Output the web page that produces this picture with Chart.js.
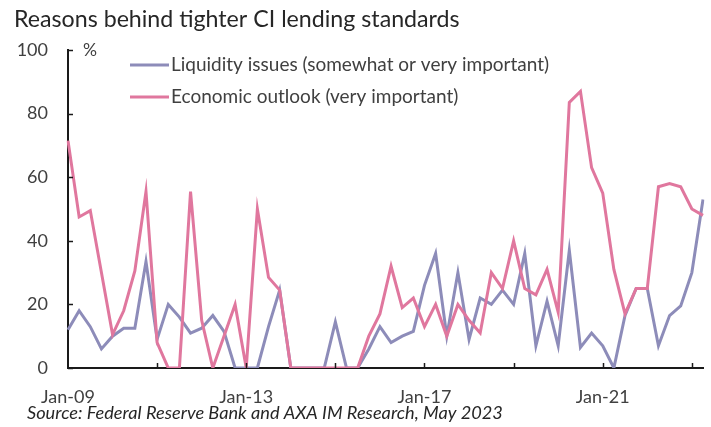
<!DOCTYPE html>
<html>
<head>
<meta charset="utf-8">
<script src="https://cdn.jsdelivr.net/npm/chart.js@4"></script>
<style>
  html, body { margin: 0; padding: 0; background: #ffffff; }
  #wrap { position: relative; width: 711px; height: 427px; }
</style>
</head>
<body>
<div id="wrap"><canvas id="c" width="711" height="427"></canvas></div>
<script>
// Quarterly survey dates, Q1 2009 to Q2 2023
const quarters = [];
for (let y = 9; y <= 23; y++) {
  for (const m of ['Jan', 'Apr', 'Jul', 'Oct']) {
    if (y === 23 && (m === 'Jul' || m === 'Oct')) continue;
    quarters.push(m + '-' + String(y).padStart(2, '0'));
  }
}

// Share of banks citing each reason, %
const liquidityIssues = [
  12, 18, 13, 6, 10, 12.5, 12.5, 33.5, 9, 20,
  16, 11, 12.5, 16.5, 11.5, 0, 0, 0, 13, 24.5,
  0, 0, 0, 0, 14.5, 0, 0, 6, 13, 8,
  10, 11.5, 26, 36, 10, 30, 9, 22, 20, 24.5,
  20, 36, 7, 21, 7, 37, 6.5, 11, 7, 0,
  16.5, 25, 25, 7, 16.5, 19.5, 30, 53
];
const economicOutlook = [
  71.5, 47.5, 49.5, 30, 10.5, 18, 30.5, 55.5, 8, 0,
  0, 55.5, 15, 0, 10, 20, 0, 50, 28.5, 24.5,
  0, 0, 0, 0, 0, 0, 0, 10, 17, 32,
  19, 22, 13, 20, 10, 20, 15, 11, 30, 25,
  40, 25, 23, 31, 17.5, 83.5, 87, 63, 55, 31,
  17, 25, 25, 57, 58, 57, 50, 48
];

const yTicks = [0, 20, 40, 60, 80, 100];
const seriesNames = ['Liquidity issues (somewhat or very important)', 'Economic outlook (very important)'];

const GREY = '#8d8cb9';
const PINK = '#e0779e';
const TEXT = '#404040';
const AXIS = '#1a1a1a';
const FONT = 'Lato, "DejaVu Sans", sans-serif';

// Title, unit, in-plot legend, source note and inward tick marks
const decorations = {
  id: 'decorations',
  afterDraw(chart) {
    const ctx = chart.ctx;
    const x = chart.scales.x, y = chart.scales.y;
    const area = chart.chartArea;
    ctx.save();

    // inward tick marks
    ctx.strokeStyle = AXIS;
    ctx.lineWidth = 1.5;
    yTicks.forEach(v => {
      const py = Math.round(y.getPixelForValue(v)) + 0.5;
      ctx.beginPath();
      ctx.moveTo(area.left, py);
      ctx.lineTo(area.left + 5, py);
      ctx.stroke();
    });
    quarters.forEach((q, i) => {
      if (i === 0 || i % 8 !== 0) return;
      const px = Math.round(x.getPixelForValue(i)) + 0.5;
      ctx.beginPath();
      ctx.moveTo(px, area.bottom);
      ctx.lineTo(px, area.bottom - 5);
      ctx.stroke();
    });

    // title
    ctx.fillStyle = '#262626';
    ctx.textBaseline = 'alphabetic';
    ctx.textAlign = 'left';
    ctx.font = '23.2px ' + FONT;
    ctx.fillText('Reasons behind tighter CI lending standards', 14, 27);

    // unit
    ctx.fillStyle = TEXT;
    ctx.font = '17.5px ' + FONT;
    ctx.fillText('%', 83, 56);

    // legend
    const colors = [GREY, PINK];
    const rows = [65, 97];
    seriesNames.forEach((name, k) => {
      ctx.strokeStyle = colors[k];
      ctx.lineWidth = 3;
      ctx.beginPath();
      ctx.moveTo(130, rows[k]);
      ctx.lineTo(169, rows[k]);
      ctx.stroke();
      ctx.fillStyle = TEXT;
      ctx.font = '19px ' + FONT;
      ctx.textBaseline = 'middle';
      ctx.fillText(name, 171, rows[k]);
    });

    // source
    ctx.textBaseline = 'alphabetic';
    ctx.fillStyle = '#262626';
    ctx.font = 'italic 18.2px ' + FONT;
    ctx.fillText('Source: Federal Reserve Bank and AXA IM Research, May 2023', 27, 419);

    ctx.restore();
  }
};

new Chart(document.getElementById('c'), {
  type: 'line',
  data: {
    labels: quarters,
    datasets: [
      {
        label: seriesNames[1],
        data: economicOutlook,
        borderColor: PINK,
        borderWidth: 3,
        pointRadius: 0,
        tension: 0,
        fill: false
      },
      {
        label: seriesNames[0],
        data: liquidityIssues,
        borderColor: GREY,
        borderWidth: 3,
        pointRadius: 0,
        tension: 0,
        fill: false
      }
    ]
  },
  options: {
    responsive: false,
    animation: false,
    events: [],
    layout: { padding: { top: 50, right: 8, left: 0, bottom: 0 } },
    plugins: {
      legend: { display: false },
      title: { display: false },
      tooltip: { enabled: false }
    },
    scales: {
      x: {
        type: 'category',
        offset: false,
        afterFit(scale) { scale.height = 59; },
        border: { display: true, color: AXIS, width: 2 },
        grid: { display: false, drawOnChartArea: false, drawTicks: false },
        ticks: {
          autoSkip: false,
          maxRotation: 0,
          minRotation: 0,
          padding: 18,
          color: TEXT,
          font: { family: FONT, size: 18 },
          callback(value, index) {
            return index % 16 === 0 ? quarters[index] : null;
          }
        }
      },
      y: {
        min: 0,
        max: 100,
        afterFit(scale) { scale.width = 68; },
        afterBuildTicks(scale) { scale.ticks = yTicks.map(v => ({ value: v })); },
        border: { display: true, color: AXIS, width: 2 },
        grid: { display: false, drawTicks: false },
        ticks: {
          padding: 20,
          color: TEXT,
          font: { family: FONT, size: 18 }
        }
      }
    }
  },
  plugins: [decorations]
});
</script>
</body>
</html>
